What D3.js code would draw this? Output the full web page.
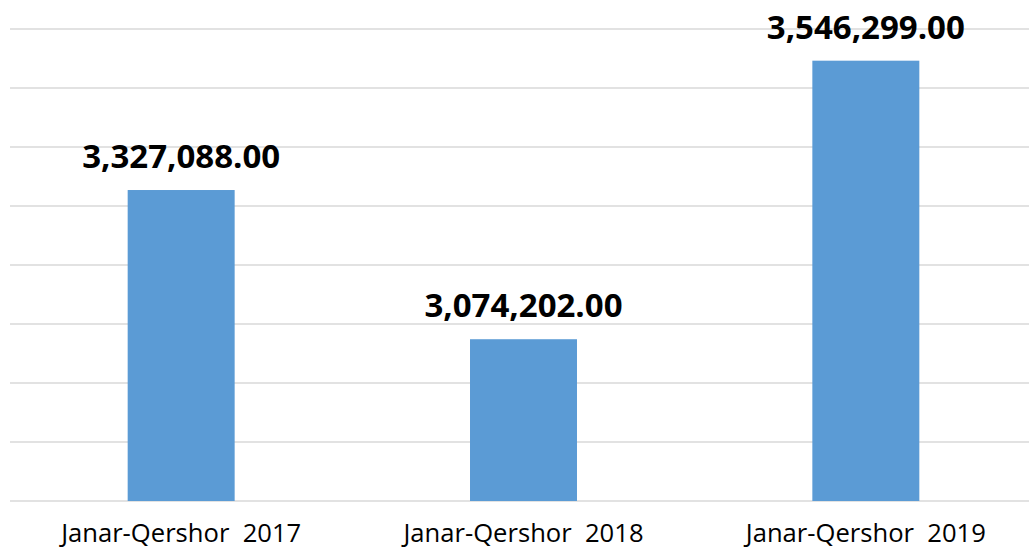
<!DOCTYPE html>
<html>
<head>
<meta charset="utf-8">
<script src="https://cdn.jsdelivr.net/npm/d3@7"></script>
<style>
  html, body { margin: 0; padding: 0; background: #fff; }
  svg { display: block; }
</style>
</head>
<body>
<svg id="chart" width="1029" height="549"></svg>
<script>
const categories = ["Janar-Qershor  2017", "Janar-Qershor  2018", "Janar-Qershor  2019"];
const values = [3327088.00, 3074202.00, 3546299.00];
const valueLabels = ["3,327,088.00", "3,074,202.00", "3,546,299.00"];
const gridTicks = [2800000, 2900000, 3000000, 3100000, 3200000, 3300000, 3400000, 3500000, 3600000];

const W = 1029, H = 549;
const svg = d3.select("#chart");

const x = d3.scaleBand()
  .domain(categories)
  .range([10, 1037])
  .paddingInner(0.6875)
  .paddingOuter(0.34375);

const y = d3.scaleLinear()
  .domain([2800000, 3600000])
  .range([501, 29]);

// gridlines
svg.append("g")
  .selectAll("line")
  .data(gridTicks)
  .join("line")
  .attr("x1", 10)
  .attr("x2", W)
  .attr("y1", d => y(d))
  .attr("y2", d => y(d))
  .attr("stroke", "#d9d9d9")
  .attr("stroke-width", 1.4);

// bars
svg.append("g")
  .selectAll("rect")
  .data(values)
  .join("rect")
  .attr("x", (d, i) => x(categories[i]))
  .attr("width", x.bandwidth())
  .attr("y", d => y(d))
  .attr("height", d => y(2800000) - y(d))
  .attr("fill", "#5b9bd5");

// data labels
svg.append("g")
  .selectAll("text")
  .data(values)
  .join("text")
  .attr("x", (d, i) => x(categories[i]) + x.bandwidth() / 2)
  .attr("y", d => y(d) - 22)
  .attr("text-anchor", "middle")
  .attr("font-family", "'Open Sans', sans-serif")
  .attr("font-weight", "bold")
  .attr("font-size", 33)
  .attr("fill", "#000")
  .text((d, i) => valueLabels[i]);

// category labels
svg.append("g")
  .selectAll("text")
  .data(categories)
  .join("text")
  .attr("x", d => x(d) + x.bandwidth() / 2)
  .attr("y", 542)
  .attr("text-anchor", "middle")
  .attr("font-family", "'Open Sans', sans-serif")
  .attr("font-size", 25.6)
  .attr("fill", "#000")
  .style("white-space", "pre")
  .attr("xml:space", "preserve")
  .text(d => d);
</script>
</body>
</html>
